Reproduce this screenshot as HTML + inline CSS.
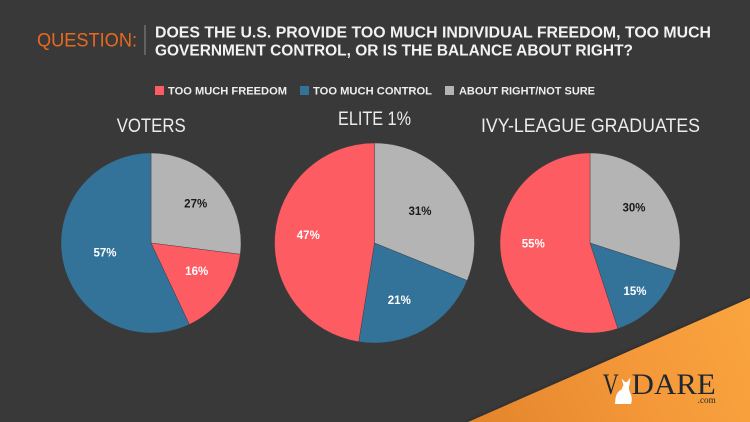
<!DOCTYPE html>
<html>
<head>
<meta charset="utf-8">
<style>
html,body{margin:0;padding:0;background:#393939;}
svg{display:block;}
</style>
</head>
<body>
<svg width="750" height="422" viewBox="0 0 750 422" xmlns="http://www.w3.org/2000/svg">
  <defs>
    <linearGradient id="og" x1="468" y1="422" x2="750" y2="300" gradientUnits="userSpaceOnUse">
      <stop offset="0" stop-color="#e3842b"/>
      <stop offset="0.6" stop-color="#f5993a"/>
      <stop offset="1" stop-color="#f9a53e"/>
    </linearGradient>
    <filter id="blur" x="-10%" y="-10%" width="120%" height="120%">
      <feGaussianBlur stdDeviation="1.2"/>
    </filter>
  </defs>
  <rect x="0" y="0" width="750" height="422" fill="#393939"/>

  <!-- Header -->
  <text x="37" y="46.7" font-family="Liberation Sans, sans-serif" font-size="19" fill="#e8691e" textLength="100" lengthAdjust="spacingAndGlyphs">QUESTION:</text>
  <line x1="145" y1="25" x2="145" y2="55" stroke="#8a8a8a" stroke-width="1"/>
  <text x="155" y="37.3" font-family="Liberation Sans, sans-serif" font-weight="bold" font-size="15.5" fill="#f2f2f2" textLength="556" lengthAdjust="spacingAndGlyphs">DOES THE U.S. PROVIDE TOO MUCH INDIVIDUAL FREEDOM, TOO MUCH</text>
  <text x="155" y="55.7" font-family="Liberation Sans, sans-serif" font-weight="bold" font-size="15.5" fill="#f2f2f2" textLength="478" lengthAdjust="spacingAndGlyphs">GOVERNMENT CONTROL, OR IS THE BALANCE ABOUT RIGHT?</text>

  <!-- Legend -->
  <rect x="155" y="86" width="9" height="9" fill="#fd5c62"/>
  <text x="168" y="94.3" font-family="Liberation Sans, sans-serif" font-weight="bold" font-size="11" fill="#eeeeee" textLength="119" lengthAdjust="spacingAndGlyphs">TOO MUCH FREEDOM</text>
  <rect x="300" y="86" width="9" height="9" fill="#33739a"/>
  <text x="313" y="94.3" font-family="Liberation Sans, sans-serif" font-weight="bold" font-size="11" fill="#eeeeee" textLength="119" lengthAdjust="spacingAndGlyphs">TOO MUCH CONTROL</text>
  <rect x="445" y="86" width="9" height="9" fill="#b4b4b4"/>
  <text x="459" y="94.3" font-family="Liberation Sans, sans-serif" font-weight="bold" font-size="11" fill="#eeeeee" textLength="136" lengthAdjust="spacingAndGlyphs">ABOUT RIGHT/NOT SURE</text>

  <!-- Titles -->
  <text x="116.7" y="132" font-family="Liberation Sans, sans-serif" font-size="19.5" fill="#ececec" textLength="69" lengthAdjust="spacingAndGlyphs">VOTERS</text>
  <text x="338" y="125" font-family="Liberation Sans, sans-serif" font-size="19" fill="#ececec" textLength="73" lengthAdjust="spacingAndGlyphs">ELITE 1%</text>
  <text x="481" y="132" font-family="Liberation Sans, sans-serif" font-size="19.5" fill="#ececec" textLength="219" lengthAdjust="spacingAndGlyphs">IVY-LEAGUE GRADUATES</text>

  <!-- Orange corner -->
  <polygon points="466,422 750,297 750,422" fill="#222" opacity="0.6" filter="url(#blur)"/>
  <polygon points="468,422 750,298 750,422" fill="url(#og)"/>

  <!-- Voters pie -->
  <g stroke="#3a3a3a" stroke-width="0.4">
    <path d="M151,243 L151,153 A90,90 0 0 1 240.29,254.28 Z" fill="#b4b4b4"/>
    <path d="M151,243 L240.29,254.28 A90,90 0 0 1 189.32,324.43 Z" fill="#fd5c62"/>
    <path d="M151,243 L189.32,324.43 A90,90 0 1 1 151,153 Z" fill="#33739a"/>
  </g>
  <!-- Elite pie -->
  <g stroke="#3a3a3a" stroke-width="0.4">
    <path d="M374.5,243 L374.5,143 A100,100 0 0 1 467.2,280.5 Z" fill="#b4b4b4"/>
    <path d="M374.5,243 L467.2,280.5 A100,100 0 0 1 358.7,341.74 Z" fill="#33739a"/>
    <path d="M374.5,243 L358.7,341.74 A100,100 0 0 1 374.5,143 Z" fill="#fd5c62"/>
  </g>
  <!-- Ivy pie -->
  <g stroke="#3a3a3a" stroke-width="0.4">
    <path d="M590,243 L590,153 A90,90 0 0 1 675.6,270.81 Z" fill="#b4b4b4"/>
    <path d="M590,243 L675.6,270.81 A90,90 0 0 1 617.81,328.6 Z" fill="#33739a"/>
    <path d="M590,243 L617.81,328.6 A90,90 0 1 1 590,153 Z" fill="#fd5c62"/>
  </g>

  <!-- Pie labels -->
  <g font-family="Liberation Sans, sans-serif" font-size="11.5" font-weight="bold" text-anchor="middle">
    <text x="195.7" y="207.5" fill="#1a1a1a">27%</text>
    <text x="196.7" y="274.8" fill="#ffffff">16%</text>
    <text x="105" y="256.4" fill="#ffffff">57%</text>

    <text x="420" y="215.1" fill="#1a1a1a">31%</text>
    <text x="399.3" y="304.1" fill="#ffffff">21%</text>
    <text x="308.3" y="239.1" fill="#ffffff">47%</text>

    <text x="634" y="211.4" fill="#1a1a1a">30%</text>
    <text x="635" y="295.1" fill="#ffffff">15%</text>
    <text x="533.3" y="247.4" fill="#ffffff">55%</text>
  </g>

  <!-- Logo -->
  <text x="602.7" y="394" font-family="Liberation Serif, serif" font-size="30" fill="#1f2730" textLength="16" lengthAdjust="spacingAndGlyphs">V</text>
  <text x="631.7" y="394" font-family="Liberation Serif, serif" font-size="30" fill="#1f2730" textLength="84" lengthAdjust="spacingAndGlyphs">DARE</text>
  <text x="697.7" y="403" font-family="Liberation Serif, serif" font-size="9" fill="#1f2730" textLength="18" lengthAdjust="spacingAndGlyphs">.com</text>
  <path d="M615,404 L615.5,398 Q616.5,392 621.5,389.5 L623.5,385 L621.5,378.5 L625,382 L627,382 L630.5,377.5 L629.5,384.5 Q628,388.5 630,392.5 Q633,398.5 631,404 Z" fill="#ffffff"/>
</svg>
</body>
</html>
